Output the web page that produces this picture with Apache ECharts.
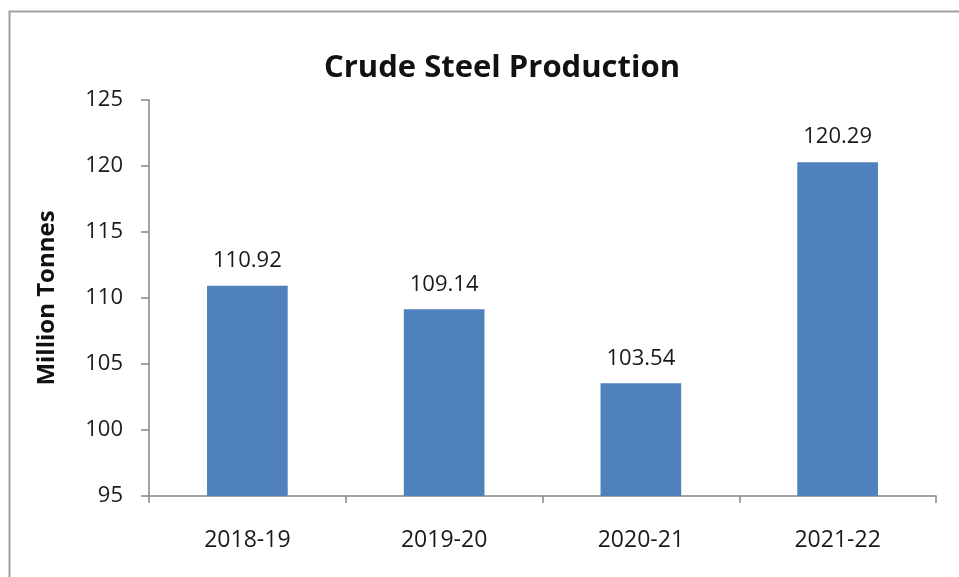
<!DOCTYPE html>
<html>
<head>
<meta charset="utf-8">
<script src="https://cdn.jsdelivr.net/npm/echarts@6/dist/echarts.min.js"></script>
<style>
  html, body { margin: 0; padding: 0; background: #fff; }
  #chart { width: 959px; height: 577px; }
</style>
</head>
<body>
<div id="chart"></div>
<script>
// Crude steel production by fiscal year (million tonnes)
const years = ['2018-19', '2019-20', '2020-21', '2021-22'];
const production = [110.92, 109.14, 103.54, 120.29];
const yTicks = { min: 95, max: 125, step: 5 };

const chart = echarts.init(document.getElementById('chart'), null, { renderer: 'canvas' });
const textFont = '"Open Sans", sans-serif';

chart.setOption({
  backgroundColor: '#ffffff',
  animation: false,
  graphic: [{
    type: 'rect',
    shape: { x: 9.5, y: 11.5, width: 1000, height: 600 },
    style: { fill: 'none', stroke: '#a0a0a0', lineWidth: 2 },
    silent: true
  }],
  title: {
    text: 'Crude Steel Production',
    left: 497,
    top: 48,
    textAlign: 'center',
    textStyle: { fontFamily: textFont, fontWeight: 'bold', fontSize: 31, color: '#111' }
  },
  grid: { left: 149, right: 23, top: 100, bottom: 81, containLabel: false },
  xAxis: {
    type: 'category',
    data: years,
    boundaryGap: true,
    axisLine: { lineStyle: { color: '#868686', width: 1.5 } },
    axisTick: { show: true, length: 7, inside: false, alignWithLabel: false, lineStyle: { color: '#868686', width: 1.5 } },
    axisLabel: { margin: 33, fontFamily: textFont, fontSize: 23, color: '#1a1a1a' }
  },
  yAxis: {
    type: 'value',
    min: yTicks.min,
    max: yTicks.max,
    interval: yTicks.step,
    name: 'Million Tonnes',
    nameLocation: 'middle',
    nameGap: 90,
    nameRotate: 90,
    nameTextStyle: { fontFamily: textFont, fontWeight: 'bold', fontSize: 24, color: '#111' },
    axisLine: { show: true, lineStyle: { color: '#868686', width: 1.5 } },
    axisTick: { show: true, length: 8, lineStyle: { color: '#868686', width: 1.5 } },
    splitLine: { show: false },
    axisLabel: { margin: 26, fontFamily: textFont, fontSize: 22, color: '#1a1a1a' }
  },
  series: [{
    type: 'bar',
    data: production,
    barWidth: '41%',
    itemStyle: { color: '#4f81bd' },
    label: {
      show: true,
      position: 'top',
      distance: 14,
      fontFamily: textFont,
      fontSize: 22,
      color: '#1a1a1a',
      formatter: p => p.value.toFixed(2)
    }
  }]
});
</script>
</body>
</html>
